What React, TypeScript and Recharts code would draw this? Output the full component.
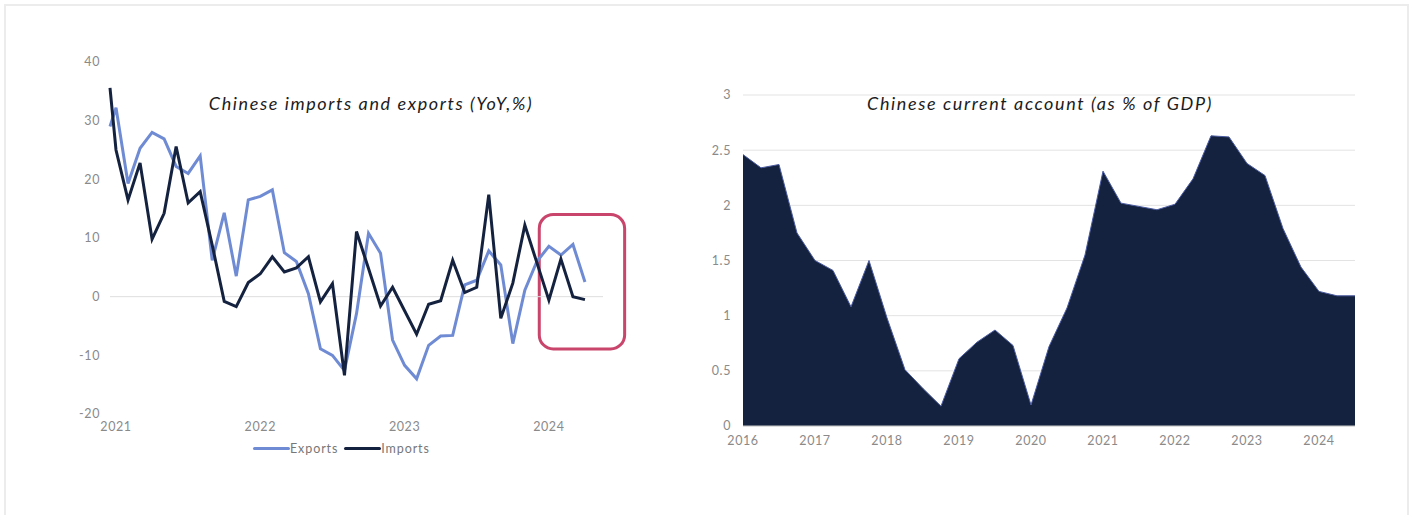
import {
  LineChart,
  Line,
  AreaChart,
  Area,
  XAxis,
  YAxis,
  CartesianGrid,
  ReferenceLine,
  ReferenceArea,
} from "recharts"

// ---- Chinese imports and exports (YoY, %), monthly Jan 2021 - Apr 2024
const tradeMonths = [
  "2021-01", "2021-02", "2021-03", "2021-04", "2021-05", "2021-06", "2021-07", "2021-08", "2021-09", "2021-10", "2021-11", "2021-12",
  "2022-01", "2022-02", "2022-03", "2022-04", "2022-05", "2022-06", "2022-07", "2022-08", "2022-09", "2022-10", "2022-11", "2022-12",
  "2023-01", "2023-02", "2023-03", "2023-04", "2023-05", "2023-06", "2023-07", "2023-08", "2023-09", "2023-10", "2023-11", "2023-12",
  "2024-01", "2024-02", "2024-03", "2024-04",
]
const exportsYoY = [
  32.2, 19.3, 25.3, 28.0, 26.9, 22.2, 21.0, 24.0, 6.2, 14.3, 3.5, 16.5,
  17.1, 18.2, 7.5, 6.0, 0.5, -8.9, -10.0, -12.6, -2.9, 10.8, 7.4, -7.4,
  -11.7, -14.0, -8.3, -6.7, -6.6, 2.0, 2.8, 7.8, 5.4, -8.0, 1.1, 6.0,
  8.6, 7.1, 8.9, 2.5,
]
const importsYoY = [
  25.0, 16.5, 22.8, 9.8, 14.2, 25.6, 16.0, 17.9, 8.8, -0.8, -1.7, 2.4,
  3.9, 6.8, 4.2, 4.9, 6.8, -0.9, 2.2, -13.4, 11.1, 4.8, -1.6, 1.6,
  -2.4, -6.4, -1.3, -0.7, 6.2, 0.7, 1.6, 17.4, -3.7, 2.3, 12.2, 5.8,
  -0.6, 6.4, 0.0, -0.5,
]
// where both lines enter at the left edge of the axis
const tradeAtAxisStart = { exports: 29.0, imports: 35.6 }
const tradeYearLabels = ["2021", "2022", "2023", "2024"]
const tradeYTicks = [-20, -10, 0, 10, 20, 30, 40]

// ---- Chinese current account (% of GDP), quarterly 2016Q1 - 2024Q3
const caQuarters = [
  "2016Q1", "2016Q2", "2016Q3", "2016Q4", "2017Q1", "2017Q2", "2017Q3", "2017Q4",
  "2018Q1", "2018Q2", "2018Q3", "2018Q4", "2019Q1", "2019Q2", "2019Q3", "2019Q4",
  "2020Q1", "2020Q2", "2020Q3", "2020Q4", "2021Q1", "2021Q2", "2021Q3", "2021Q4",
  "2022Q1", "2022Q2", "2022Q3", "2022Q4", "2023Q1", "2023Q2", "2023Q3", "2023Q4",
  "2024Q1", "2024Q2", "2024Q3",
]
const currentAccount = [
  2.46, 2.34, 2.37, 1.75, 1.5, 1.41, 1.08, 1.5,
  0.98, 0.51, 0.34, 0.18, 0.61, 0.76, 0.87, 0.73,
  0.19, 0.72, 1.07, 1.55, 2.31, 2.02, 1.99, 1.96,
  2.01, 2.24, 2.63, 2.62, 2.38, 2.27, 1.79, 1.44,
  1.22, 1.18, 1.18,
]
const caYears = [2016, 2017, 2018, 2019, 2020, 2021, 2022, 2023, 2024]
const caYTicks = [0, 0.5, 1, 1.5, 2, 2.5, 3]

const EXPORTS_COLOR = "#6f8bd3"
const IMPORTS_COLOR = "#15223f"
const FONT = "Lato, sans-serif"
const AXIS_TEXT = { fill: "#8a8a8a", fontSize: 12.5, fontFamily: FONT, letterSpacing: 0.6 }

// month position: mid-month, 0 = start of Jan 2021
const tradeData = [
  { m: 0, exports: tradeAtAxisStart.exports, imports: tradeAtAxisStart.imports },
  ...tradeMonths.map((month, i) => ({ month, m: i + 0.5, exports: exportsYoY[i], imports: importsYoY[i] })),
]

const caData = caQuarters.map((q, i) => ({
  q,
  t: Number(q.slice(0, 4)) + (Number(q.slice(5)) - 1) / 4,
  ca: currentAccount[i],
}))

function TradeLegend() {
  const items = [
    { name: "Exports", color: EXPORTS_COLOR },
    { name: "Imports", color: IMPORTS_COLOR },
  ]
  return (
    <div style={{ position: "absolute", left: 253, top: 441, display: "flex", alignItems: "center", gap: 6 }}>
      {items.map((it) => (
        <div key={it.name} style={{ display: "flex", alignItems: "center" }}>
          <div style={{ width: 37, height: 3, background: it.color, borderRadius: 2 }} />
          <span style={{ fontSize: 12.5, color: "#777", fontFamily: FONT, letterSpacing: 0.9 }}>{it.name}</span>
        </div>
      ))}
    </div>
  )
}

const titleStyle: React.CSSProperties = {
  position: "absolute",
  fontFamily: FONT,
  fontStyle: "italic",
  fontSize: 18,
  letterSpacing: 1.6,
  color: "#1c1c1c",
  whiteSpace: "nowrap",
  transform: "translateX(-50%)",
}

export default function App() {
  return (
    <div
      style={{
        position: "absolute",
        left: 0,
        top: 0,
        width: 1414,
        height: 515,
        background: "#fff",
        overflow: "hidden",
      }}
    >
      <div
        style={{
          position: "absolute",
          left: 4,
          top: 4,
          width: 1405,
          height: 530,
          border: "2px solid #ececec",
          boxSizing: "border-box",
        }}
      />

      <div style={{ position: "absolute", left: 0, top: 0 }}>
        <LineChart width={650} height={470} data={tradeData} margin={{ top: 62, right: 47, bottom: 26, left: 80 }}>
          <XAxis
            type="number"
            dataKey="m"
            domain={[0, 41]}
            ticks={[0.5, 12.5, 24.5, 36.5]}
            tickFormatter={(v: number) => tradeYearLabels[Math.round((v - 0.5) / 12)]}
            axisLine={false}
            tickLine={false}
            tick={AXIS_TEXT}
            height={30}
          />
          <YAxis
            domain={[-20, 40]}
            ticks={tradeYTicks}
            axisLine={false}
            tickLine={false}
            tickMargin={4}
            tick={AXIS_TEXT}
            width={30}
          />
          <ReferenceLine y={0} stroke="#dedede" strokeWidth={1} />
          <Line
            type="linear"
            dataKey="exports"
            name="Exports"
            stroke={EXPORTS_COLOR}
            strokeWidth={3}
            dot={false}
            isAnimationActive={false}
          />
          <Line
            type="linear"
            dataKey="imports"
            name="Imports"
            stroke={IMPORTS_COLOR}
            strokeWidth={3}
            dot={false}
            isAnimationActive={false}
          />
          <ReferenceArea
            x1={35.7}
            x2={42.8}
            y1={-8.9}
            y2={14}
            ifOverflow="visible"
            fill="none"
            stroke="#c9456b"
            strokeWidth={3}
            radius={14}
          />
        </LineChart>
      </div>
      <TradeLegend />
      <div style={{ ...titleStyle, left: 371, top: 92 }}>Chinese imports and exports (YoY,%)</div>

      <div style={{ position: "absolute", left: 680, top: 0 }}>
        <AreaChart width={700} height={470} data={caData} margin={{ top: 95, right: 25, bottom: 14, left: 23 }}>
          <CartesianGrid vertical={false} stroke="#e3e3e3" />
          <XAxis
            type="number"
            dataKey="t"
            domain={[2016, 2024.5]}
            ticks={caYears}
            axisLine={{ stroke: "#c9c9c9" }}
            tickLine={false}
            tickMargin={4}
            tick={AXIS_TEXT}
            height={30}
          />
          <YAxis
            domain={[0, 3]}
            ticks={caYTicks}
            axisLine={false}
            tickLine={false}
            tickMargin={6}
            tick={AXIS_TEXT}
            width={40}
          />
          <Area
            type="linear"
            dataKey="ca"
            fill="#15223f"
            fillOpacity={1}
            stroke="#4a5ba0"
            strokeWidth={1}
            isAnimationActive={false}
          />
        </AreaChart>
      </div>
      <div style={{ ...titleStyle, left: 1040, top: 92 }}>Chinese current account (as % of GDP)</div>
    </div>
  )
}
